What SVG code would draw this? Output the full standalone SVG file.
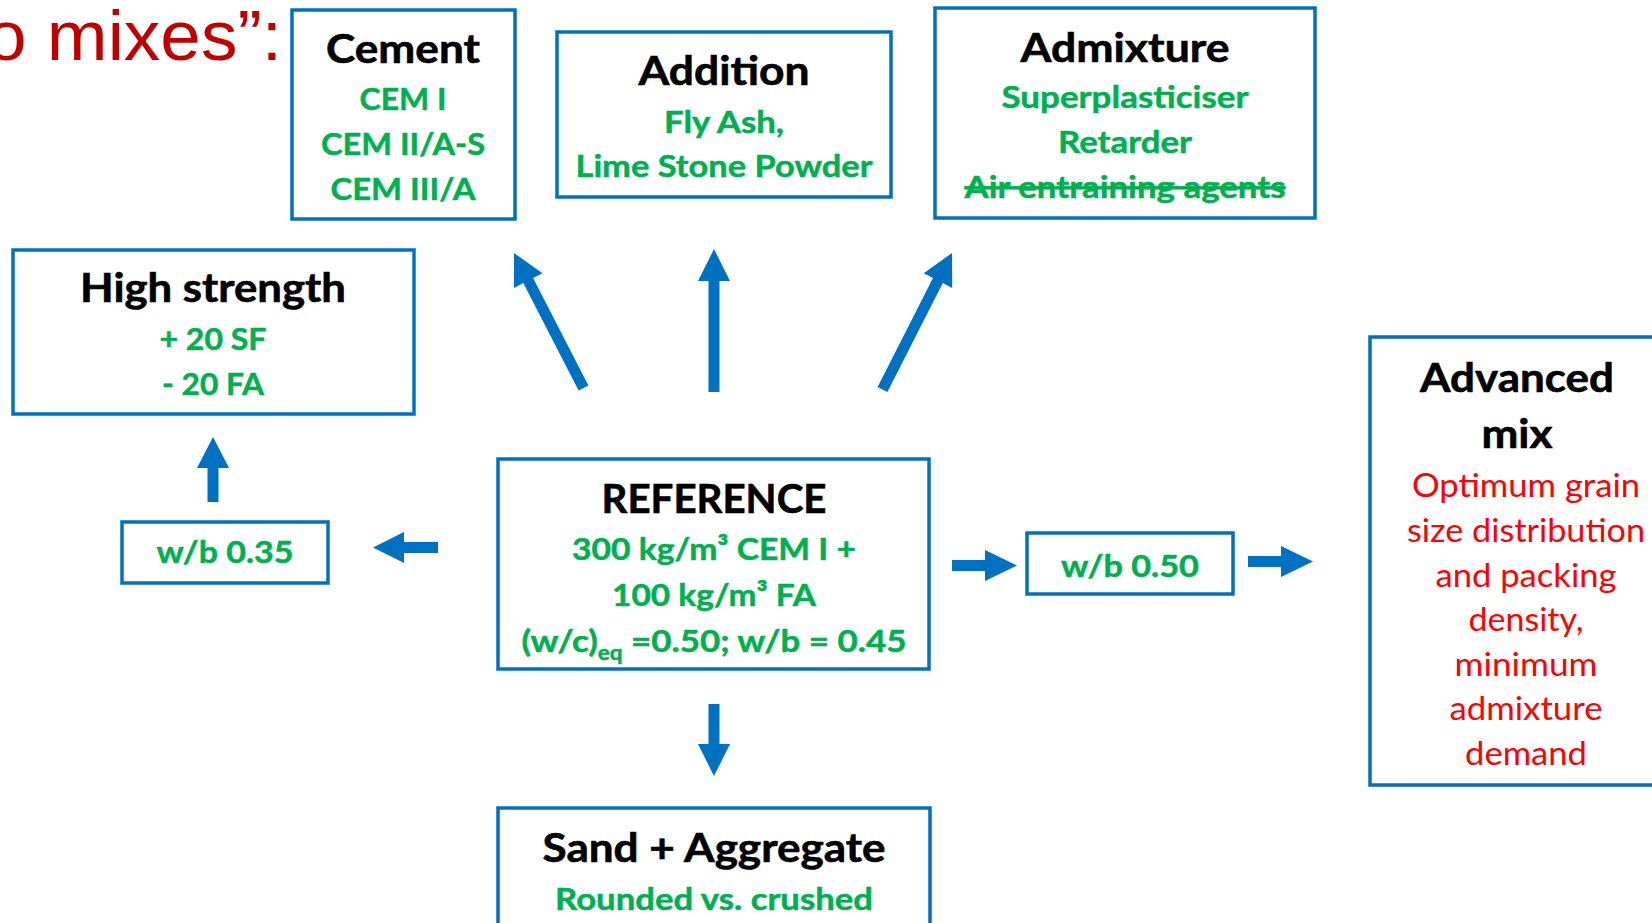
<svg xmlns="http://www.w3.org/2000/svg" width="1652" height="923" viewBox="0 0 1652 923">
<style>
.box{fill:#fff;stroke:#0070C0;stroke-width:3.5}
.t{font-family:Lato,"Noto Sans",sans-serif;font-weight:700;font-size:40px;fill:#000;stroke:#000;stroke-width:0.6;text-anchor:middle}
.g{font-family:Lato,"Noto Sans",sans-serif;font-weight:700;font-size:31px;fill:#00B050;stroke:#00B050;stroke-width:0.5;text-anchor:middle}
.r{font-family:Lato,"Noto Sans",sans-serif;font-weight:400;font-size:32px;fill:#FF0000;text-anchor:middle}
.arr{fill:#0070C0}
</style>
<rect width="1652" height="923" fill="#fff"/>
<text x="-14" y="60" font-family="Liberation Sans, Arial, sans-serif" font-size="71" fill="#C00000" textLength="296" lengthAdjust="spacingAndGlyphs">o mixes”:</text>

<g id="cement">
<rect class="box" x="292" y="10" width="223" height="209"/>
<text class="t" x="403" y="63" textLength="154" lengthAdjust="spacingAndGlyphs">Cement</text>
<text class="g" x="403" y="110" textLength="87" lengthAdjust="spacingAndGlyphs">CEM I</text>
<text class="g" x="403" y="155" textLength="164" lengthAdjust="spacingAndGlyphs">CEM II/A-S</text>
<text class="g" x="403" y="200" textLength="145" lengthAdjust="spacingAndGlyphs">CEM III/A</text>
</g>

<g id="addition">
<rect class="box" x="557" y="32" width="334" height="165"/>
<text class="t" x="724" y="85" textLength="171" lengthAdjust="spacingAndGlyphs">Addition</text>
<text class="g" x="724" y="133" textLength="120" lengthAdjust="spacingAndGlyphs">Fly Ash,</text>
<text class="g" x="724" y="177" textLength="297" lengthAdjust="spacingAndGlyphs">Lime Stone Powder</text>
</g>

<g id="admixture">
<rect class="box" x="935" y="8" width="380" height="210"/>
<text class="t" x="1125" y="62" textLength="209" lengthAdjust="spacingAndGlyphs">Admixture</text>
<text class="g" x="1125" y="108" textLength="247" lengthAdjust="spacingAndGlyphs">Superplasticiser</text>
<text class="g" x="1125" y="153" textLength="134" lengthAdjust="spacingAndGlyphs">Retarder</text>
<text class="g" x="1125" y="198" text-decoration="line-through" textLength="321" lengthAdjust="spacingAndGlyphs">Air entraining agents</text>
</g>

<g id="high-strength">
<rect class="box" x="13" y="250" width="401" height="164"/>
<text class="t" x="213" y="302" textLength="266" lengthAdjust="spacingAndGlyphs">High strength</text>
<text class="g" x="213" y="350" textLength="107" lengthAdjust="spacingAndGlyphs">+ 20 SF</text>
<text class="g" x="213" y="395" textLength="102" lengthAdjust="spacingAndGlyphs">- 20 FA</text>
</g>

<g id="wb035">
<rect class="box" x="122" y="522" width="206" height="61"/>
<text class="g" x="225" y="563" textLength="137" lengthAdjust="spacingAndGlyphs">w/b 0.35</text>
</g>

<g id="reference">
<rect class="box" x="498" y="459" width="431" height="210"/>
<text class="t" x="714" y="513" textLength="225" lengthAdjust="spacingAndGlyphs">REFERENCE</text>
<text class="g" x="714" y="560" textLength="284" lengthAdjust="spacingAndGlyphs">300 kg/m³ CEM I +</text>
<text class="g" x="714" y="606" textLength="204" lengthAdjust="spacingAndGlyphs">100 kg/m³ FA</text>
<text class="g" x="714" y="652" textLength="385" lengthAdjust="spacingAndGlyphs">(w/c)<tspan font-size="20" dy="8">eq</tspan><tspan dy="-8"> =0.50; w/b = 0.45</tspan></text>
</g>

<g id="wb050">
<rect class="box" x="1027" y="533" width="206" height="61"/>
<text class="g" x="1130" y="577" textLength="138" lengthAdjust="spacingAndGlyphs">w/b 0.50</text>
</g>

<g id="advanced">
<rect class="box" x="1370" y="337" width="300" height="448"/>
<text class="t" x="1517" y="392" textLength="194" lengthAdjust="spacingAndGlyphs">Advanced</text>
<text class="t" x="1517" y="448" textLength="71" lengthAdjust="spacingAndGlyphs">mix</text>
<text class="r" x="1526" y="497" textLength="228" lengthAdjust="spacingAndGlyphs">Optimum grain</text>
<text class="r" x="1526" y="542" textLength="238" lengthAdjust="spacingAndGlyphs">size distribution</text>
<text class="r" x="1526" y="587" textLength="181" lengthAdjust="spacingAndGlyphs">and packing</text>
<text class="r" x="1526" y="631" textLength="115" lengthAdjust="spacingAndGlyphs">density,</text>
<text class="r" x="1526" y="676" textLength="143" lengthAdjust="spacingAndGlyphs">minimum</text>
<text class="r" x="1526" y="720" textLength="153" lengthAdjust="spacingAndGlyphs">admixture</text>
<text class="r" x="1526" y="765" textLength="122" lengthAdjust="spacingAndGlyphs">demand</text>
</g>

<g id="sand">
<rect class="box" x="498" y="808" width="432" height="130"/>
<text class="t" x="714" y="862" textLength="343" lengthAdjust="spacingAndGlyphs">Sand + Aggregate</text>
<text class="g" x="714" y="910" textLength="318" lengthAdjust="spacingAndGlyphs">Rounded vs. crushed</text>
</g>

<g id="connectors">
<polygon class="arr" points="514,253 542.4,273.3 533.1,278.1 588.4,385.5 578.6,390.5 523.3,283.1 514,287.9"/>
<polygon class="arr" points="714,249 730,281 719.5,281 719.5,392 708.5,392 708.5,281 698,281"/>
<polygon class="arr" points="952,253 952.2,287.9 942.8,283.1 887.4,392 877.6,387 933,278.1 923.7,273.3"/>
<polygon class="arr" points="213,437 229,468 218.5,468 218.5,502 207.5,502 207.5,468 197,468"/>
<polygon class="arr" points="373,547.5 404,532 404,542 438,542 438,553 404,553 404,563"/>
<polygon class="arr" points="1017,565.5 985,550 985,560 952,560 952,571 985,571 985,581"/>
<polygon class="arr" points="1313,561.5 1281,546 1281,556 1248,556 1248,567 1281,567 1281,577"/>
<polygon class="arr" points="714,776 698,744 708.5,744 708.5,704 719.5,704 719.5,744 730,744"/>
</g>
</svg>
